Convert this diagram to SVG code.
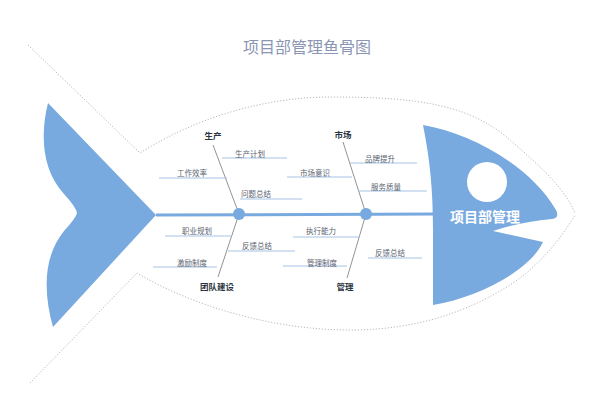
<svg xmlns="http://www.w3.org/2000/svg" width="601" height="400" viewBox="0 0 601 400">
<style>
.dot{fill:none;stroke:#b8b8b8;stroke-width:1;stroke-dasharray:1.2 1.8}
.fill{fill:#78a9df}
.bone{stroke:#777;stroke-width:0.8;fill:none}
.sub{stroke:#a6c3e6;stroke-width:1;fill:none}
.t{font-family:"Noto Sans CJK SC","Noto Sans",sans-serif;text-anchor:middle;dominant-baseline:central}
.s{font-size:7.5px;fill:#5a6270}
.m{font-size:8.5px;font-weight:bold;fill:#2a3340}
</style>
<rect width="601" height="400" fill="#ffffff"/>
<text id="title" class="t" x="307" y="46" font-size="16" fill="#8a96b4">项目部管理鱼骨图</text>
<g id="outline">
<path class="dot" d="M28,45 L140,153 C200,115 270,97 330,97 C420,97 470,105 510,140 C545,170 565,190 575,213"/>
<path class="dot" d="M30,383 L137,273 C200,310 280,330 350,330 C420,330 470,310 510,285 C540,265 560,240 575,215"/>
</g>
<g id="tail">
<path class="fill" d="M48,103 L156,215 L53,327 C44,295 42,258 64,231 Q76,218 77,213 Q76,207 64,194 C42,170 40,135 48,103 Z"/>
</g>
<g id="head">
<path class="fill" d="M423,125 C470,133 530,165 556,210 Q560,218 552,219 Q520,222 493,231 L543,242 C530,270 480,297 433,305 L433,230 C433,190 430,160 423,125 Z"/>
<circle cx="487" cy="182" r="20" fill="#ffffff"/>
<text class="t" x="485" y="216" font-size="14" font-weight="bold" fill="#ffffff">项目部管理</text>
</g>
<g id="connectors">
<line x1="156" y1="215" x2="436" y2="214" stroke="#78a9df" stroke-width="3"/>
<line class="bone" x1="213" y1="145" x2="239" y2="214"/>
<line class="bone" x1="239" y1="214" x2="218" y2="277"/>
<line class="bone" x1="343" y1="142" x2="366" y2="214"/>
<line class="bone" x1="366" y1="214" x2="347" y2="278"/>
<line class="sub" x1="222" y1="158" x2="287" y2="158"/>
<line class="sub" x1="159" y1="178" x2="227" y2="178"/>
<line class="sub" x1="240" y1="199" x2="302" y2="199"/>
<line class="sub" x1="287" y1="177" x2="352" y2="177"/>
<line class="sub" x1="350" y1="163" x2="417" y2="163"/>
<line class="sub" x1="358" y1="191" x2="427" y2="191"/>
<line class="sub" x1="165" y1="236" x2="232" y2="236"/>
<line class="sub" x1="228" y1="251" x2="295" y2="251"/>
<line class="sub" x1="153" y1="267" x2="217" y2="267"/>
<line class="sub" x1="293" y1="237" x2="360" y2="237"/>
<line class="sub" x1="368" y1="258" x2="422" y2="258"/>
<line class="sub" x1="283" y1="266" x2="347" y2="266"/>
<circle cx="239" cy="214" r="6" class="fill"/>
<circle cx="366" cy="214" r="6" class="fill"/>
</g>
<g id="shengchan">
<text class="t m" x="213" y="135">生产</text>
<text class="t s" x="250" y="153">生产计划</text>
<text class="t s" x="192" y="172">工作效率</text>
<text class="t s" x="256" y="193">问题总结</text>
</g>
<g id="shichang">
<text class="t m" x="343" y="134">市场</text>
<text class="t s" x="315" y="172">市场意识</text>
<text class="t s" x="380" y="158">品牌提升</text>
<text class="t s" x="386" y="186">服务质量</text>
</g>
<g id="tuandui">
<text class="t m" x="217" y="286">团队建设</text>
<text class="t s" x="197" y="230">职业规划</text>
<text class="t s" x="257" y="245">反馈总结</text>
<text class="t s" x="192" y="262">激励制度</text>
</g>
<g id="guanli">
<text class="t m" x="345" y="286">管理</text>
<text class="t s" x="321" y="230">执行能力</text>
<text class="t s" x="390" y="252">反馈总结</text>
<text class="t s" x="322" y="262">管理制度</text>
</g>
</svg>
